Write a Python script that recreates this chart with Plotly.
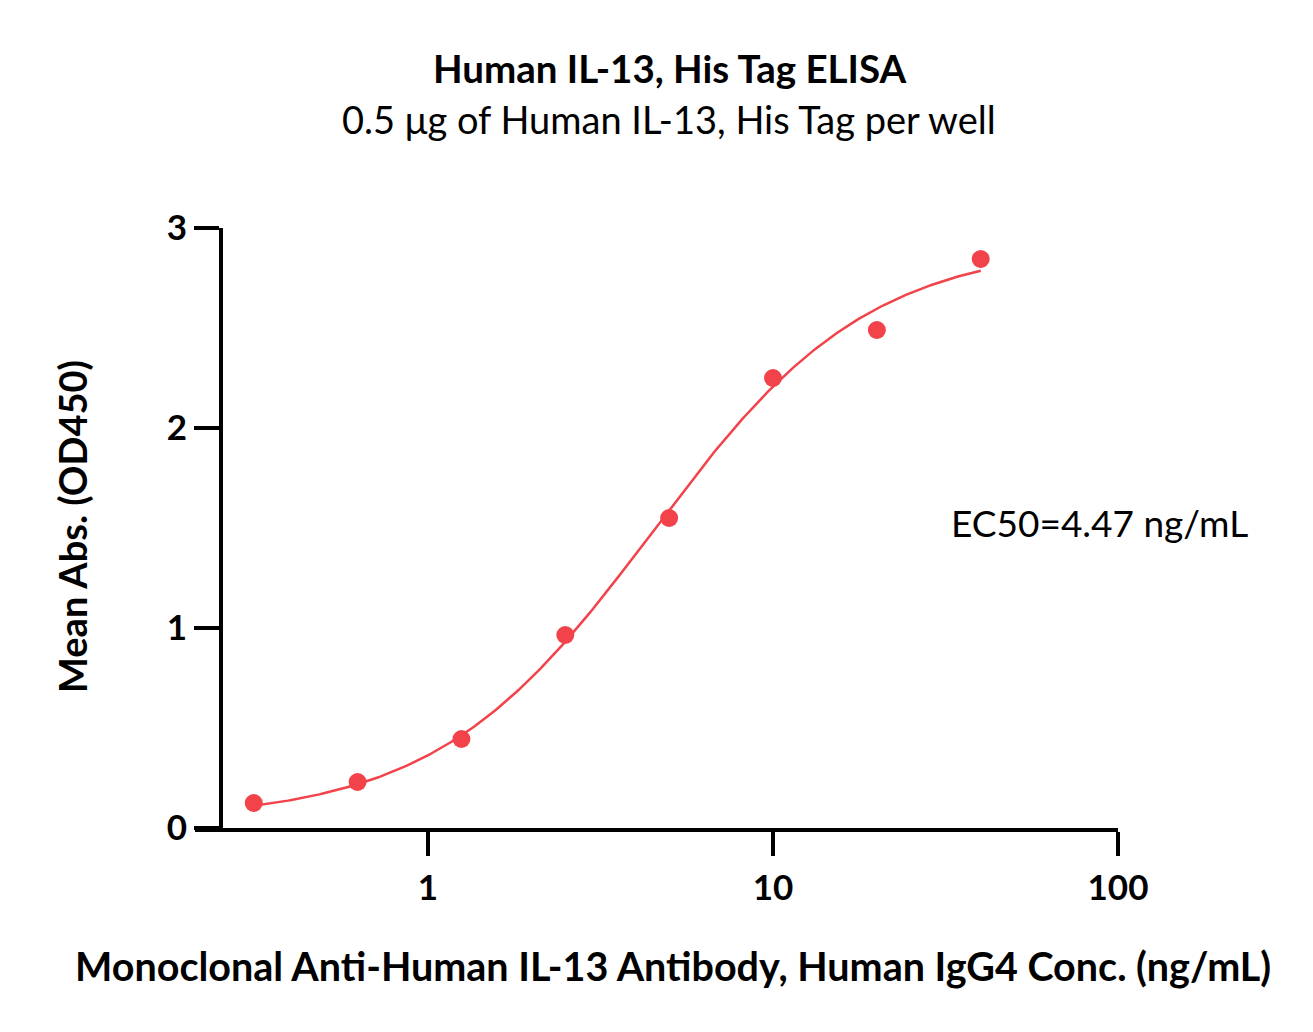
import numpy as np
import plotly.graph_objects as go

# Data
conc = [0.3125, 0.625, 1.25, 2.5, 5, 10, 20, 40]          # ng/mL
od450 = [0.125, 0.23, 0.445, 0.965, 1.55, 2.25, 2.49, 2.845]

# 4PL fit parameters (EC50 from the chart)
fit_bottom = 0.04
fit_top = 2.92
fit_ec50 = 4.47
fit_hill = 1.38

x_ticks = [1, 10, 100]
x_tick_labels = ["1", "10", "100"]
y_ticks = [0, 1, 2, 3]
y_tick_labels = ["0", "1", "2", "3"]

RED = "#F2424A"
FONT = "Lato"

xf = np.logspace(np.log10(conc[0]), np.log10(conc[-1]), 300)
yf = fit_bottom + (fit_top - fit_bottom) / (1 + (fit_ec50 / xf) ** fit_hill)

fig = go.Figure()
fig.add_trace(go.Scatter(x=xf, y=yf, mode="lines",
                         line=dict(color=RED, width=2.5), hoverinfo="skip",
                         showlegend=False))
fig.add_trace(go.Scatter(x=conc, y=od450, mode="markers",
                         marker=dict(color=RED, size=18, line=dict(width=0)),
                         showlegend=False, cliponaxis=False))

W, H = 1313, 1032
OFF = 8  # page offset
ml, mr, mt, mb = 195 - OFF, W - 1118 + OFF, 228 - OFF, H - 828 + OFF
plot_w = W - ml - mr
plot_h = H - mt - mb


def px(x):
    return (x - 195) / plot_w


def py(y):
    return (828 - y) / plot_h


fig.update_layout(
    width=W, height=H,
    margin=dict(l=ml, r=mr, t=mt, b=mb),
    paper_bgcolor="white", plot_bgcolor="white",
    font=dict(family=FONT, color="black"),
    xaxis=dict(type="log", range=[-0.6754, 2.0],
               tickvals=x_ticks, ticktext=x_tick_labels,
               ticks="outside", ticklen=24, tickwidth=4, tickcolor="black",
               showline=True, linewidth=4, linecolor="black",
               showgrid=False, zeroline=False, ticklabelstandoff=2,
               tickfont=dict(family=FONT, size=35, color="black", weight="bold")),
    yaxis=dict(range=[0, 3], tickvals=y_ticks, ticktext=y_tick_labels,
               anchor="free", position=(221 - 195) / plot_w,
               ticks="outside", ticklen=25, tickwidth=4, tickcolor="black",
               showline=True, linewidth=4, linecolor="black",
               showgrid=False, zeroline=False,
               tickfont=dict(family=FONT, size=35, color="black", weight="bold")),
    annotations=[
        dict(text="<b>Human IL-13, His Tag ELISA</b>", x=px(670), y=py(68),
             xref="paper", yref="paper", showarrow=False,
             xanchor="center", yanchor="middle",
             font=dict(family=FONT, size=38.5, color="black")),
        dict(text="0.5 μg of Human IL-13, His Tag per well", x=px(669), y=py(119),
             xref="paper", yref="paper", showarrow=False,
             xanchor="center", yanchor="middle",
             font=dict(family=FONT, size=38, color="black")),
        dict(text="<b>Monoclonal Anti-Human IL-13 Antibody, Human IgG4 Conc. (ng/mL)</b>",
             x=px(673), y=py(965), xref="paper", yref="paper", showarrow=False,
             xanchor="center", yanchor="middle",
             font=dict(family=FONT, size=39.5, color="black")),
        dict(text="<b>Mean Abs. (OD450)</b>", x=px(72), y=py(526),
             xref="paper", yref="paper", showarrow=False, textangle=-90,
             xanchor="center", yanchor="middle",
             font=dict(family=FONT, size=38, color="black")),
        dict(text="EC50=4.47 ng/mL", x=px(1099), y=py(522),
             xref="paper", yref="paper", showarrow=False,
             xanchor="center", yanchor="middle",
             font=dict(family=FONT, size=37, color="black")),
    ],
)

fig.write_html("out.html")
